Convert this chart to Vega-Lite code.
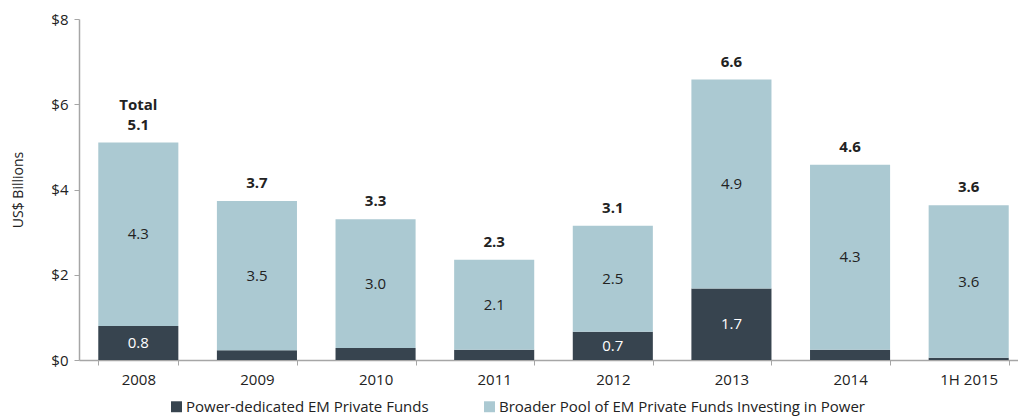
{
  "$schema": "https://vega.github.io/schema/vega-lite/v6.json",
  "width": 949,
  "height": 341,
  "autosize": {"type": "none"},
  "padding": {"left": 79, "top": 19, "right": 0, "bottom": 56},
  "config": {
    "view": {"stroke": null},
    "font": "Open Sans",
    "axis": {"labelFont": "Open Sans", "titleFont": "Open Sans"},
    "legend": {"labelFont": "Open Sans"}
  },
  "datasets": {
    "segs": [
      {"period": "2008", "series": "Power-dedicated EM Private Funds", "order": 1, "value": 0.8, "label": "0.8"},
      {"period": "2008", "series": "Broader Pool of EM Private Funds Investing in Power", "order": 2, "value": 4.3, "label": "4.3"},
      {"period": "2009", "series": "Power-dedicated EM Private Funds", "order": 1, "value": 0.23, "label": ""},
      {"period": "2009", "series": "Broader Pool of EM Private Funds Investing in Power", "order": 2, "value": 3.5, "label": "3.5"},
      {"period": "2010", "series": "Power-dedicated EM Private Funds", "order": 1, "value": 0.28, "label": ""},
      {"period": "2010", "series": "Broader Pool of EM Private Funds Investing in Power", "order": 2, "value": 3.02, "label": "3.0"},
      {"period": "2011", "series": "Power-dedicated EM Private Funds", "order": 1, "value": 0.24, "label": ""},
      {"period": "2011", "series": "Broader Pool of EM Private Funds Investing in Power", "order": 2, "value": 2.11, "label": "2.1"},
      {"period": "2012", "series": "Power-dedicated EM Private Funds", "order": 1, "value": 0.66, "label": "0.7"},
      {"period": "2012", "series": "Broader Pool of EM Private Funds Investing in Power", "order": 2, "value": 2.49, "label": "2.5"},
      {"period": "2013", "series": "Power-dedicated EM Private Funds", "order": 1, "value": 1.68, "label": "1.7"},
      {"period": "2013", "series": "Broader Pool of EM Private Funds Investing in Power", "order": 2, "value": 4.9, "label": "4.9"},
      {"period": "2014", "series": "Power-dedicated EM Private Funds", "order": 1, "value": 0.24, "label": ""},
      {"period": "2014", "series": "Broader Pool of EM Private Funds Investing in Power", "order": 2, "value": 4.34, "label": "4.3"},
      {"period": "1H 2015", "series": "Power-dedicated EM Private Funds", "order": 1, "value": 0.05, "label": ""},
      {"period": "1H 2015", "series": "Broader Pool of EM Private Funds Investing in Power", "order": 2, "value": 3.58, "label": "3.6"}
    ],
    "totals": [
      {"period": "2008", "total": 5.1, "label": "5.1"},
      {"period": "2009", "total": 3.73, "label": "3.7"},
      {"period": "2010", "total": 3.3, "label": "3.3"},
      {"period": "2011", "total": 2.35, "label": "2.3"},
      {"period": "2012", "total": 3.15, "label": "3.1"},
      {"period": "2013", "total": 6.58, "label": "6.6"},
      {"period": "2014", "total": 4.58, "label": "4.6"},
      {"period": "1H 2015", "total": 3.63, "label": "3.6"}
    ]
  },
  "layer": [
    {
      "data": {"name": "segs"},
      "mark": {"type": "bar"},
      "encoding": {
        "x": {
          "field": "period", "type": "nominal", "sort": null,
          "scale": {"paddingInner": 0.325, "paddingOuter": 0.1625},
          "axis": {"title": null, "labelAngle": 0, "labelFontSize": 15, "labelColor": "#222222", "labelPadding": 7, "domainColor": "#a6a6a6", "domainWidth": 1.5, "tickColor": "#a6a6a6", "tickBand": "extent", "tickSize": 5}
        },
        "y": {
          "field": "value", "type": "quantitative", "stack": "zero",
          "scale": {"domain": [0, 8]},
          "axis": {"title": "US$ Billions", "titleFontSize": 14, "titleFontWeight": "normal", "titleColor": "#222222", "titlePadding": 25, "values": [0, 2, 4, 6, 8], "labelExpr": "'$' + datum.value", "labelFontSize": 15, "labelColor": "#222222", "labelPadding": 6, "grid": false, "domainColor": "#a6a6a6", "domainWidth": 1.5, "tickColor": "#a6a6a6", "tickSize": 5}
        },
        "order": {"field": "order", "type": "quantitative"},
        "color": {
          "field": "series", "type": "nominal",
          "scale": {"domain": ["Power-dedicated EM Private Funds", "Broader Pool of EM Private Funds Investing in Power"], "range": ["#37444f", "#abc9d2"]},
          "legend": {"title": null, "orient": "none", "legendX": 90, "legendY": 380, "direction": "horizontal", "symbolType": "square", "symbolSize": 120, "symbolStrokeWidth": 0, "labelFontSize": 15, "labelColor": "#222222", "labelLimit": 500, "columnPadding": 53, "labelOffset": 2}
        }
      }
    },
    {
      "data": {"name": "segs"},
      "mark": {"type": "text", "fontSize": 15, "baseline": "middle"},
      "encoding": {
        "x": {"field": "period", "type": "nominal", "sort": null},
        "y": {"field": "value", "type": "quantitative", "stack": "zero", "bandPosition": 0.5},
        "order": {"field": "order", "type": "quantitative"},
        "text": {"field": "label"},
        "color": {
          "field": "order", "type": "nominal",
          "scale": {"domain": [1, 2], "range": ["#ffffff", "#222222"]},
          "legend": null
        }
      }
    },
    {
      "data": {"name": "totals"},
      "mark": {"type": "text", "fontSize": 15, "fontWeight": "bold", "baseline": "bottom", "dy": -10, "color": "#222222"},
      "encoding": {
        "x": {"field": "period", "type": "nominal", "sort": null},
        "y": {"field": "total", "type": "quantitative"},
        "text": {"field": "label"}
      }
    },
    {
      "data": {"values": [{"period": "2008", "total": 5.1, "label": "Total"}]},
      "mark": {"type": "text", "fontSize": 15, "fontWeight": "bold", "baseline": "bottom", "dy": -30, "color": "#222222"},
      "encoding": {
        "x": {"field": "period", "type": "nominal", "sort": null},
        "y": {"field": "total", "type": "quantitative"},
        "text": {"field": "label"}
      }
    }
  ],
  "resolve": {"scale": {"color": "independent"}}
}
